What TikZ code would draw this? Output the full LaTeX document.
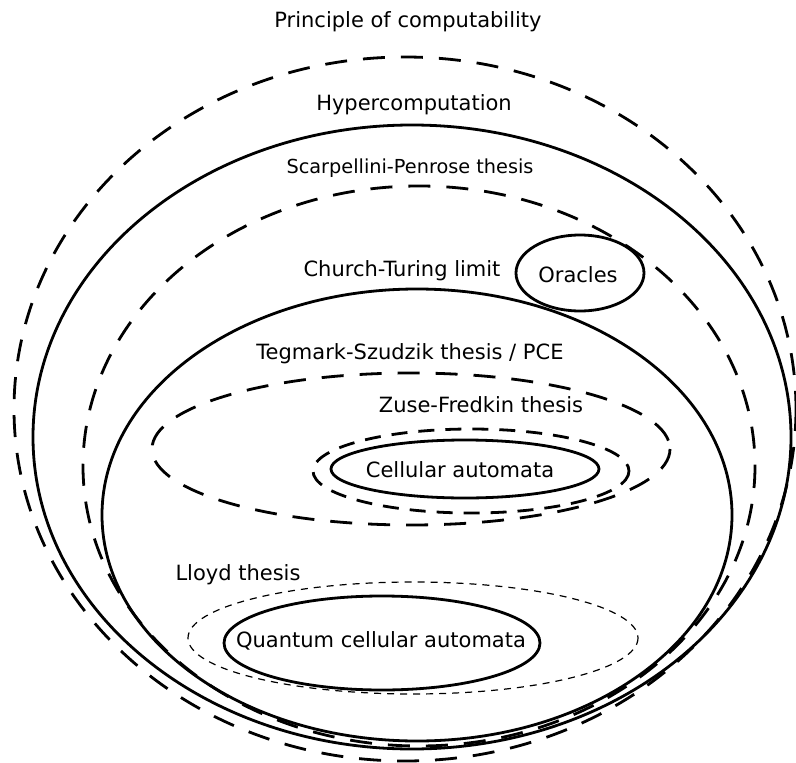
\documentclass[tikz,border=0pt]{standalone}
\usepackage{fontspec}
\setmainfont{DejaVu Sans}

\tikzset{
  thick line/.style={line width=2.8pt},
  long dash/.style={line width=2.8pt, dash pattern=on 22pt off 16pt},
  mid dash/.style={line width=2.8pt, dash pattern=on 16pt off 11pt},
  thin dash/.style={line width=1.2pt, dash pattern=on 7pt off 6pt},
  label/.style={font=\fontsize{21}{24}\selectfont, inner sep=0pt}
}

\begin{document}
\begin{tikzpicture}[x=1pt,y=-1pt]

		\useasboundingbox (0,0) rectangle (796,763);

		% outer regions
		\draw[long dash] (405,409) ellipse [x radius=391, y radius=352];
		\draw[thick line] (412,437) ellipse [x radius=379, y radius=312];
		\draw[long dash] (419,466) ellipse [x radius=336, y radius=280];
		\draw[thick line] (417,515) ellipse [x radius=315, y radius=226];
		\draw[thick line] (580,273) ellipse [x radius=64, y radius=38];

		% inner regions
		\draw[long dash] (411,449) ellipse [x radius=259, y radius=76];
		\draw[mid dash] (471,471) ellipse [x radius=158, y radius=42];
		\draw[thick line] (465,469) ellipse [x radius=134, y radius=29];
		\draw[thin dash] (413,638) ellipse [x radius=225, y radius=56];
		\draw[thick line] (382,643) ellipse [x radius=158, y radius=47];

		\node[label] (poc) at (408,22) {Principle of computability};
		\node[label] (hyper) at (414,105) {Hypercomputation};
		\node[label, font=\fontsize{19.3}{22}\selectfont] (scarp) at (410,168) {Scarpellini-Penrose thesis};
		\node[label] (ctl) at (402,271) {Church-Turing limit};
		\node[label] (orac) at (578,275) {Oracles};
		\node[label] (tegm) at (410,354) {Tegmark-Szudzik thesis / PCE};
		\node[label] (zuse) at (481,405) {Zuse-Fredkin thesis};
		\node[label] (ca) at (460,470) {Cellular automata};
		\node[label] (lloyd) at (238,575) {Lloyd thesis};
		\node[label] (qca) at (381,641) {Quantum cellular automata};

	\end{tikzpicture}
\end{document}
